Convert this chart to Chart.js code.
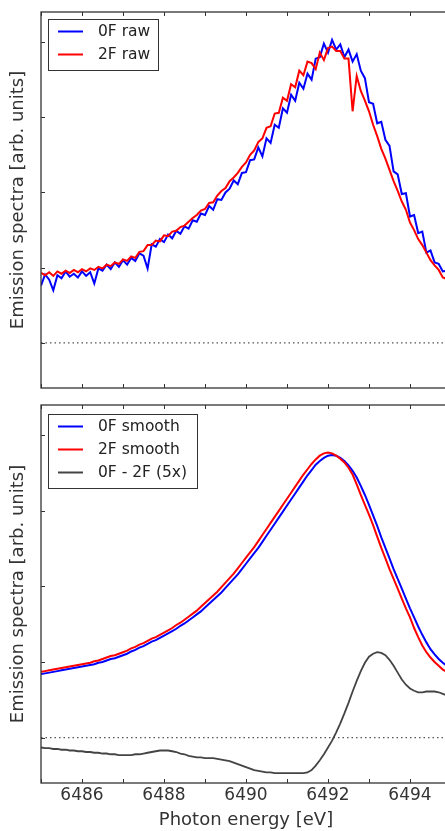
<!DOCTYPE html>
<html>
<head>
<meta charset="utf-8">
<script src="https://cdn.jsdelivr.net/npm/chart.js@4"></script>
<style>
  html, body { margin: 0; padding: 0; background: #fff; overflow: hidden; width: 445px; height: 831px; }
  canvas { display: block; }
</style>
</head>
<body>
<canvas id="rawChart" width="460" height="400"></canvas>
<canvas id="smoothChart" width="460" height="431"></canvas>
<script>
// photon energy grid [eV]
const energy = [
  6485.0, 6485.1, 6485.2, 6485.3, 6485.4, 6485.5, 6485.6, 6485.7, 6485.8, 6485.9,
  6486.0, 6486.1, 6486.2, 6486.3, 6486.4, 6486.5, 6486.6, 6486.7, 6486.8, 6486.9,
  6487.0, 6487.1, 6487.2, 6487.3, 6487.4, 6487.5, 6487.6, 6487.7, 6487.8, 6487.9,
  6488.0, 6488.1, 6488.2, 6488.3, 6488.4, 6488.5, 6488.6, 6488.7, 6488.8, 6488.9,
  6489.0, 6489.1, 6489.2, 6489.3, 6489.4, 6489.5, 6489.6, 6489.7, 6489.8, 6489.9,
  6490.0, 6490.1, 6490.2, 6490.3, 6490.4, 6490.5, 6490.6, 6490.7, 6490.8, 6490.9,
  6491.0, 6491.1, 6491.2, 6491.3, 6491.4, 6491.5, 6491.6, 6491.7, 6491.8, 6491.9,
  6492.0, 6492.1, 6492.2, 6492.3, 6492.4, 6492.5, 6492.6, 6492.7, 6492.8, 6492.9,
  6493.0, 6493.1, 6493.2, 6493.3, 6493.4, 6493.5, 6493.6, 6493.7, 6493.8, 6493.9,
  6494.0, 6494.1, 6494.2, 6494.3, 6494.4, 6494.5, 6494.6, 6494.7, 6494.8, 6494.9,
  6495.0
];

const raw0F = [
  0.76, 0.91, 0.84, 0.70, 0.90, 0.86, 0.95, 0.88, 0.92, 0.87,
  0.95, 0.89, 0.94, 0.79, 0.99, 0.96, 1.04, 0.98, 1.07, 1.01,
  1.10, 1.04, 1.13, 1.09, 1.19, 1.16, 0.99, 1.31, 1.28, 1.38,
  1.34, 1.44, 1.39, 1.49, 1.45, 1.55, 1.52, 1.63, 1.61, 1.72,
  1.70, 1.82, 1.77, 1.91, 1.90, 2.00, 2.05, 2.16, 2.11, 2.26,
  2.27, 2.43, 2.44, 2.60, 2.48, 2.72, 2.66, 2.90, 2.86, 3.12,
  3.06, 3.30, 3.22, 3.46, 3.38, 3.58, 3.50, 3.78, 3.80, 3.98,
  3.86, 4.03, 3.90, 3.97, 3.80, 3.90, 3.74, 3.84, 3.62, 3.52,
  3.20, 3.18, 2.92, 2.94, 2.70, 2.62, 2.28, 2.24, 1.98, 1.99,
  1.68, 1.70, 1.46, 1.48, 1.20, 1.23, 1.07, 1.05, 0.95, 0.96,
  0.89
];

const raw2F = [
  0.93, 0.90, 0.94, 0.89, 0.95, 0.92, 0.96, 0.93, 0.97, 0.94,
  0.98, 0.95, 0.99, 0.97, 1.01, 0.99, 1.04, 1.02, 1.07, 1.05,
  1.11, 1.09, 1.15, 1.13, 1.21, 1.22, 1.30, 1.30, 1.36, 1.35,
  1.43, 1.42, 1.48, 1.49, 1.54, 1.56, 1.61, 1.66, 1.70, 1.76,
  1.78, 1.86, 1.87, 1.96, 2.02, 2.06, 2.15, 2.20, 2.26, 2.34,
  2.40, 2.50, 2.56, 2.67, 2.72, 2.86, 2.88, 3.05, 3.06, 3.26,
  3.22, 3.44, 3.40, 3.62, 3.56, 3.74, 3.72, 3.64, 3.86, 3.76,
  3.92, 3.94, 3.88, 3.88, 3.78, 3.78, 3.08, 3.55, 3.35, 3.22,
  3.08, 2.90, 2.75, 2.58, 2.45, 2.30, 2.15, 2.02, 1.88, 1.77,
  1.60, 1.50, 1.38, 1.30, 1.20, 1.10, 1.03, 0.97, 0.87, 0.85,
  0.80
];

const smooth0F = [
  0.84, 0.85, 0.86, 0.87, 0.88, 0.89, 0.90, 0.91, 0.92, 0.93,
  0.94, 0.95, 0.96, 0.97, 0.99, 1.00, 1.02, 1.04, 1.05, 1.07,
  1.09, 1.11, 1.14, 1.16, 1.19, 1.21, 1.24, 1.27, 1.29, 1.32,
  1.35, 1.38, 1.41, 1.44, 1.48, 1.51, 1.55, 1.59, 1.63, 1.67,
  1.72, 1.77, 1.82, 1.87, 1.92, 1.98, 2.04, 2.10, 2.16, 2.23,
  2.30, 2.37, 2.44, 2.51, 2.59, 2.67, 2.75, 2.83, 2.91, 2.99,
  3.07, 3.15, 3.23, 3.31, 3.39, 3.47, 3.54, 3.61, 3.66, 3.70,
  3.73, 3.74, 3.73, 3.70, 3.66, 3.60, 3.53, 3.44, 3.33, 3.21,
  3.08, 2.94, 2.80, 2.65, 2.51, 2.37, 2.23, 2.10, 1.97, 1.84,
  1.71, 1.59, 1.47, 1.36, 1.26, 1.17, 1.10, 1.04, 0.99, 0.95,
  0.92
];

const smooth2F = [
  0.87, 0.88, 0.89, 0.90, 0.91, 0.92, 0.93, 0.94, 0.95, 0.96,
  0.97, 0.98, 0.99, 1.01, 1.02, 1.04, 1.06, 1.08, 1.09, 1.11,
  1.13, 1.15, 1.18, 1.20, 1.23, 1.25, 1.28, 1.31, 1.33, 1.36,
  1.39, 1.42, 1.45, 1.49, 1.52, 1.56, 1.60, 1.64, 1.68, 1.73,
  1.78, 1.83, 1.88, 1.93, 1.99, 2.05, 2.11, 2.17, 2.24, 2.31,
  2.38, 2.45, 2.52, 2.60, 2.68, 2.76, 2.84, 2.92, 3.00, 3.08,
  3.16, 3.24, 3.32, 3.40, 3.48, 3.55, 3.62, 3.68, 3.73, 3.76,
  3.77, 3.76, 3.73, 3.69, 3.64, 3.57, 3.48, 3.35, 3.21, 3.08,
  2.95, 2.81, 2.66, 2.51, 2.37, 2.23, 2.10, 1.97, 1.84, 1.71,
  1.59, 1.45, 1.33, 1.22, 1.13, 1.06, 1.00, 0.95, 0.90, 0.87,
  0.85
];

const diff5x = [
  -0.13, -0.14, -0.14, -0.15, -0.15, -0.16, -0.16, -0.17, -0.17, -0.18,
  -0.18, -0.19, -0.19, -0.20, -0.20, -0.21, -0.21, -0.22, -0.22, -0.23,
  -0.23, -0.23, -0.23, -0.22, -0.22, -0.21, -0.20, -0.19, -0.18, -0.17,
  -0.17, -0.17, -0.18, -0.19, -0.21, -0.22, -0.24, -0.25, -0.26, -0.26,
  -0.27, -0.27, -0.27, -0.28, -0.29, -0.30, -0.31, -0.33, -0.35, -0.37,
  -0.39, -0.41, -0.43, -0.44, -0.45, -0.46, -0.46, -0.47, -0.47, -0.47,
  -0.47, -0.47, -0.47, -0.47, -0.47, -0.46, -0.43, -0.37, -0.30, -0.22,
  -0.13, -0.04, 0.07, 0.19, 0.32, 0.46, 0.61, 0.75, 0.88, 0.99,
  1.07, 1.11, 1.13, 1.12, 1.09, 1.03, 0.95, 0.86, 0.77, 0.70,
  0.65, 0.62, 0.60, 0.60, 0.61, 0.61, 0.61, 0.60, 0.58, 0.56,
  0.54
];

const xRange = [6485, 6495];
const yRange = [-0.6, 4.4];
const yTicks = [0, 1, 2, 3, 4];
const baseline = [0, 0];

const FONT = '"DejaVu Sans", sans-serif';

function pts(ys) {
  return energy.map((e, i) => ({ x: e, y: ys[i] }));
}

function zeroLine() {
  return {
    data: xRange.map((e, i) => ({ x: e, y: baseline[i] })),
    borderColor: '#555',
    borderWidth: 1.2,
    borderDash: [1.5, 3],
    pointRadius: 0,
    order: 5
  };
}

// spines plus inward tick marks on all four sides
const frame = {
  id: 'frame',
  afterDatasetsDraw(chart) {
    const { ctx, chartArea: a, scales: { x, y } } = chart;
    ctx.save();
    ctx.strokeStyle = '#333';
    ctx.lineWidth = 1;
    ctx.beginPath();
    x.ticks.forEach(t => {
      const px = Math.round(x.getPixelForValue(t.value)) + 0.5;
      ctx.moveTo(px, a.bottom); ctx.lineTo(px, a.bottom - 4);
      ctx.moveTo(px, a.top); ctx.lineTo(px, a.top + 4);
    });
    yTicks.forEach(v => {
      const py = Math.round(y.getPixelForValue(v)) + 0.5;
      ctx.moveTo(a.left, py); ctx.lineTo(a.left + 4, py);
      ctx.moveTo(a.right, py); ctx.lineTo(a.right - 4, py);
    });
    ctx.stroke();
    ctx.lineWidth = 1.3;
    ctx.strokeRect(a.left, a.top, a.right - a.left, a.bottom - a.top);
    ctx.restore();
  }
};

// matplotlib style boxed legend inside the axes
const boxLegend = {
  id: 'boxLegend',
  afterDraw(chart, args, opts) {
    const ctx = chart.ctx;
    const items = chart.data.datasets.filter(d => d.label);
    ctx.save();
    ctx.fillStyle = '#fff';
    ctx.fillRect(opts.x, opts.y, opts.w, opts.h);
    ctx.strokeStyle = '#333';
    ctx.lineWidth = 1;
    ctx.strokeRect(opts.x + 0.5, opts.y + 0.5, opts.w, opts.h);
    ctx.font = '15.5px ' + FONT;
    ctx.textBaseline = 'middle';
    items.forEach((d, i) => {
      const ly = opts.y + 12.5 + i * 23;
      ctx.strokeStyle = d.borderColor;
      ctx.lineWidth = 2;
      ctx.beginPath();
      ctx.moveTo(opts.x + 10, ly);
      ctx.lineTo(opts.x + 35, ly);
      ctx.stroke();
      ctx.fillStyle = '#222';
      ctx.fillText(d.label, opts.x + 50, ly);
    });
    ctx.restore();
  }
};

function yScale() {
  return {
    type: 'linear',
    min: yRange[0],
    max: yRange[1],
    grid: { display: false, drawTicks: false },
    border: { display: false },
    ticks: { display: false, stepSize: 1 },
    title: {
      display: true,
      text: 'Emission spectra [arb. units]',
      color: '#333',
      font: { family: FONT, size: 18 },
      padding: { top: 8, bottom: 0 }
    },
    afterFit: s => { s.width = 41; }
  };
}

new Chart(document.getElementById('rawChart'), {
  type: 'line',
  data: {
    datasets: [
      { label: '0F raw', data: pts(raw0F), borderColor: '#0000ff', borderWidth: 2, pointRadius: 0, order: 2 },
      { label: '2F raw', data: pts(raw2F), borderColor: '#ff0000', borderWidth: 2, pointRadius: 0, order: 1 },
      zeroLine()
    ]
  },
  options: {
    responsive: false,
    devicePixelRatio: 1,
    animation: false,
    layout: { padding: { top: 12, bottom: 12, left: 0, right: 9 } },
    plugins: {
      legend: { display: false },
      tooltip: { enabled: false },
      boxLegend: { x: 48, y: 19, w: 110, h: 51 }
    },
    scales: {
      x: {
        type: 'linear',
        min: xRange[0],
        max: xRange[1],
        grid: { display: false, drawTicks: false },
        border: { display: false },
        ticks: { display: false, stepSize: 1 },
        afterFit: s => { s.height = 0; }
      },
      y: yScale()
    }
  },
  plugins: [frame, boxLegend]
});

new Chart(document.getElementById('smoothChart'), {
  type: 'line',
  data: {
    datasets: [
      { label: '0F smooth', data: pts(smooth0F), borderColor: '#0000ff', borderWidth: 2, pointRadius: 0, order: 3 },
      { label: '2F smooth', data: pts(smooth2F), borderColor: '#ff0000', borderWidth: 2, pointRadius: 0, order: 2 },
      { label: '0F - 2F (5x)', data: pts(diff5x), borderColor: '#444444', borderWidth: 1.8, pointRadius: 0, order: 1 },
      zeroLine()
    ]
  },
  options: {
    responsive: false,
    devicePixelRatio: 1,
    animation: false,
    layout: { padding: { top: 5, bottom: 0, left: 0, right: 9 } },
    plugins: {
      legend: { display: false },
      tooltip: { enabled: false },
      boxLegend: { x: 48, y: 14, w: 149, h: 74 }
    },
    scales: {
      x: {
        type: 'linear',
        min: xRange[0],
        max: xRange[1],
        grid: { display: false, drawTicks: false },
        border: { display: false },
        ticks: {
          stepSize: 1,
          autoSkip: false,
          maxRotation: 0,
          padding: 2,
          color: '#333',
          font: { family: FONT, size: 17 },
          callback: v => (v % 2 === 0 && v > xRange[0] && v < xRange[1]) ? String(v) : ''
        },
        title: {
          display: true,
          text: 'Photon energy [eV]',
          color: '#333',
          font: { family: FONT, size: 18 },
          padding: { top: 0, bottom: 0 }
        },
        afterFit: s => { s.height = 48; }
      },
      y: yScale()
    }
  },
  plugins: [frame, boxLegend]
});
</script>
</body>
</html>
